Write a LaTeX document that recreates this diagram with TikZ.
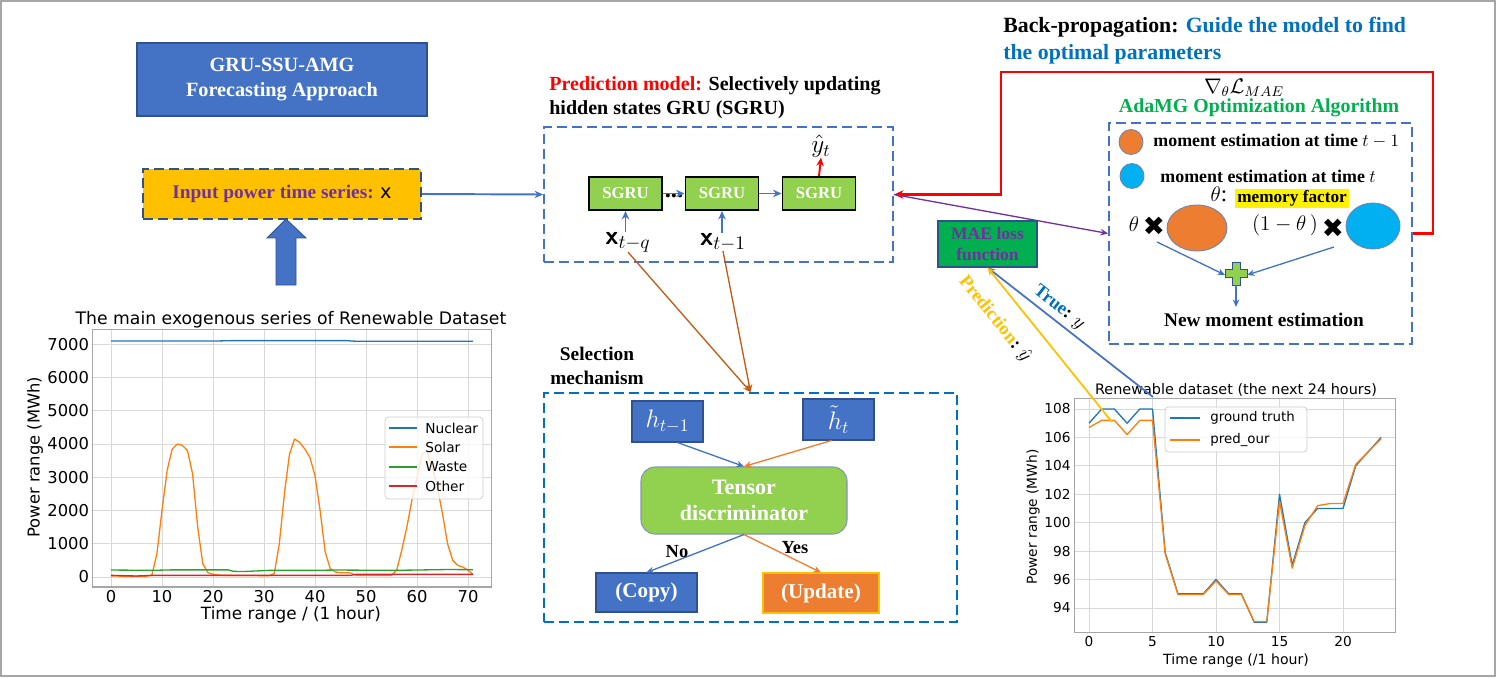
\documentclass[tikz,border=0pt]{standalone}
\usepackage{amsmath,amssymb}
\usepackage{fontspec}
\setmainfont{Liberation Serif}
\newfontfamily\plotfont{DejaVu Sans}
\usepackage{xcolor}
\usepackage{tikz}
\usetikzlibrary{shapes.geometric, arrows.meta, positioning, calc}

\definecolor{offblue}{HTML}{4472C4}
\definecolor{offdark}{HTML}{2F528F}
\definecolor{offgreen}{HTML}{92D050}
\definecolor{offorange}{HTML}{ED7D31}
\definecolor{offgold}{HTML}{FFC000}
\definecolor{offpurple}{HTML}{7030A0}
\definecolor{offsky}{HTML}{00B0F0}
\definecolor{offnavy}{HTML}{0070C0}
\definecolor{offlime}{HTML}{00B050}
\definecolor{offbrown}{HTML}{C55A11}
\definecolor{offred}{HTML}{FF0000}
\definecolor{mplblue}{HTML}{1F77B4}
\definecolor{mplorange}{HTML}{FF7F0E}
\definecolor{mplgreen}{HTML}{2CA02C}
\definecolor{mplred}{HTML}{D62728}

\begin{document}
\begin{tikzpicture}[
    x=0.2mm,
    y=-0.2mm,
    bluebox/.style={rectangle, draw=offdark, fill=offblue, text=white,
                    line width=0.6pt, inner sep=1pt, align=center},
    dashbox/.style={rectangle, draw=offblue, line width=1.1pt,
                    dash pattern=on 2mm off 1mm},
    sgru/.style={rectangle, draw=black, fill=offgreen, line width=1.1pt,
                 minimum width=14.6mm, minimum height=6.6mm, inner sep=0pt,
                 text=white, font=\bfseries\fontsize{9.5}{11}\selectfont},
    arrow/.style={-{Stealth[length=1.7mm, width=1.5mm]}, line width=1.1pt,
                  color=offblue},
    thinarrow/.style={-{Stealth[length=1.5mm, width=1.3mm]}, line width=0.75pt},
    lbl/.style={font=\bfseries\fontsize{10.5}{13.7}\selectfont, inner sep=0pt},
    mathlbl/.style={font=\fontsize{13}{15}\selectfont, inner sep=0pt},
    gridline/.style={draw=black!15, line width=0.5pt},
    plotframe/.style={draw=black!35, line width=0.6pt},
    ticklbl/.style={font=\plotfont\fontsize{9.3}{11}\selectfont, inner sep=2pt},
    smalltick/.style={font=\plotfont\fontsize{7.8}{9}\selectfont, inner sep=2pt},
    series/.style={line width=0.75pt, line join=round},
]
\useasboundingbox (0,0) rectangle (1503,678);
\draw[black!35, line width=0.8pt] (1,1) rectangle (1495,676);

% left column
\node[bluebox, minimum width=58mm, minimum height=14.6mm,
      font=\bfseries\fontsize{11.5}{14}\selectfont] (title) at (282,79.5)
      {GRU-SSU-AMG\\Forecasting Approach};
\draw[fill=offblue, draw=offdark, line width=0.5pt]
    (267,238) -- (286,219) -- (306,238) -- (296,238) -- (296,285)
    -- (276,285) -- (276,238) -- cycle;
\node[rectangle, fill=offgold, draw=offdark, line width=1.1pt,
      dash pattern=on 2mm off 1mm, minimum width=55.6mm, minimum height=10mm,
      font=\bfseries\fontsize{11}{13}\selectfont, text=offpurple] (input) at (282,194)
      {Input power time series: {\plotfont\mdseries\color{black}x}};

% prediction model
\node[lbl, anchor=west, align=left, font=\bfseries\fontsize{11.4}{13.7}\selectfont]
      (predtitle) at (549,98)
      {{\color{offred}Prediction model:} Selectively updating\\hidden states GRU (SGRU)};
\node[dashbox, minimum width=69.8mm, minimum height=27mm] (sgrubox) at (718.5,194.5) {};
\node[sgru] (sgru1) at (625.5,193.5) {SGRU};
\node[sgru] (sgru2) at (722,193.5) {SGRU};
\node[sgru] (sgru3) at (819,193.5) {SGRU};
\node[font=\bfseries\fontsize{14}{16}\selectfont, inner sep=0pt] (dots) at (674,196) {...};
\node[font=\fontsize{15}{17}\selectfont, inner sep=0pt] (xq) at (628,242)
      {\textsf{\bfseries x}$_{t-q}$};
\node[font=\fontsize{15}{17}\selectfont, inner sep=0pt] (x1) at (723,242)
      {\textsf{\bfseries x}$_{t-1}$};
\node[font=\fontsize{14}{16}\selectfont, inner sep=0pt] (yhat) at (821,146) {$\hat{y}_t$};

\draw[arrow] (input.east) -- (sgrubox.west);
\draw[arrow] (sgru1.east) -- (sgru2.west);
\draw[arrow] (sgru2.east) -- (sgru3.west);
\draw[arrow] (xq.north -| sgru1) -- (sgru1.south);
\draw[arrow] (x1.north -| sgru2) -- (sgru2.south);
\draw[arrow, color=offred] (sgru3.north) -- (yhat.south);

% back-propagation
\node[lbl, anchor=west, align=left, font=\bfseries\fontsize{12.4}{15.4}\selectfont]
      (bptitle) at (1003,41)
      {Back-propagation: {\color{offnavy}Guide the model to find}\\
       {\color{offnavy}the optimal parameters}};
\node[font=\fontsize{12}{14}\selectfont, inner sep=0pt] (grad) at (1244,88)
      {$\nabla_{\theta}\mathcal{L}_{MAE}$};
\node[lbl, text=offlime, font=\bfseries\fontsize{11.3}{13}\selectfont] (adatitle) at (1259,108)
      {AdaMG Optimization Algorithm};
\node[dashbox, minimum width=60.6mm, minimum height=44.2mm] (adamg) at (1260.5,233.5) {};
\coordinate (bpcorner) at (1001,72);
\draw[-{Stealth[length=1.9mm, width=1.7mm]}, line width=1.4pt, color=offred]
    (adamg.east) -- ++(20,0) |- (bpcorner) |- (sgrubox.east);
\draw[thinarrow, color=offpurple] (sgrubox.east) -- (adamg.west);

\node[ellipse, fill=offorange, draw=offdark!70, line width=0.5pt,
      minimum width=4.8mm, minimum height=5mm, inner sep=0pt] (mprev) at (1131,142) {};
\node[ellipse, fill=offsky, draw=offdark!70, line width=0.5pt,
      minimum width=4.8mm, minimum height=5mm, inner sep=0pt] (mnow) at (1132,176) {};
\node[lbl, anchor=west, font=\bfseries\fontsize{10.2}{12}\selectfont] (mprevtxt) at (1153,141)
      {moment estimation at time $t-1$};
\node[lbl, anchor=west, font=\bfseries\fontsize{10.2}{12}\selectfont] (mnowtxt) at (1160,176)
      {moment estimation at time $t$};
\node[mathlbl] (thcolon) at (1219,194) {$\theta$:};
\node[lbl, fill=yellow, minimum width=22.8mm, minimum height=3.8mm,
      font=\bfseries\fontsize{9.8}{11}\selectfont] (memory) at (1292,198.5) {memory factor};
\node[mathlbl] (th1) at (1134,224) {$\theta$};
\node[inner sep=0pt, font=\plotfont\fontsize{15}{17}\selectfont] (cross1) at (1154,226) {✖};
\node[ellipse, fill=offorange, draw=offdark!70, line width=0.5pt,
      minimum width=12mm, minimum height=9.2mm] (bigprev) at (1197,228) {};
\node[mathlbl] (th2) at (1285,225) {$(1-\theta\,)$};
\node[inner sep=0pt, font=\plotfont\fontsize{15}{17}\selectfont] (cross2) at (1333,228) {✖};
\node[ellipse, fill=offsky, draw=offdark!70, line width=0.5pt,
      minimum width=10.8mm, minimum height=9.2mm] (bignow) at (1373,226) {};
\coordinate (plus) at (1236,273);
\coordinate (fromprev) at (1157,242);
\coordinate (fromnow) at (1334,247);
\draw[fill=offgreen, draw=offdark, line width=0.5pt]
    ($(plus)+(-4,-11)$) -- ($(plus)+(4,-11)$) -- ($(plus)+(4,-4)$) -- ($(plus)+(11,-4)$)
    -- ($(plus)+(11,4)$) -- ($(plus)+(4,4)$) -- ($(plus)+(4,12)$) -- ($(plus)+(-4,12)$)
    -- ($(plus)+(-4,4)$) -- ($(plus)+(-11,4)$) -- ($(plus)+(-11,-4)$) -- ($(plus)+(-4,-4)$)
    -- cycle;
\node[lbl, font=\bfseries\fontsize{11}{13}\selectfont] (newm) at (1264,320) {New moment estimation};
\draw[thinarrow, color=offblue] (fromprev) -- ($(plus)+(-11,2)$);
\draw[thinarrow, color=offblue] (fromnow) -- ($(plus)+(11,2)$);
\draw[thinarrow, color=offblue] ($(plus)+(0,12)$) -- ($(plus)+(0,34)$);

% selection mechanism
\node[lbl, align=center, font=\bfseries\fontsize{11}{13.7}\selectfont] (seltitle) at (597,366)
      {Selection\\mechanism};
\node[dashbox, draw=offnavy, minimum width=82.6mm, minimum height=45.8mm] (selbox) at (750.5,507.5) {};
\node[bluebox, minimum width=14.2mm, minimum height=8.2mm,
      font=\fontsize{14}{16}\selectfont] (hprev) at (667.5,421.5) {$h_{t-1}$};
\node[bluebox, minimum width=14.2mm, minimum height=8.2mm,
      font=\fontsize{14}{16}\selectfont] (htil) at (838.5,419.5) {$\tilde{h}_t$};
\node[rectangle, rounded corners=8pt, fill=offgreen, draw=offdark!60, line width=0.6pt,
      minimum width=41.2mm, minimum height=13.4mm, align=center, text=white,
      font=\bfseries\fontsize{12.5}{15}\selectfont] (tensor) at (744,500.5)
      {Tensor\\discriminator};
\node[bluebox, minimum width=20.2mm, minimum height=7.8mm,
      font=\bfseries\fontsize{12}{14}\selectfont] (copy) at (646.5,592.5) {(Copy)};
\node[bluebox, fill=offorange, draw=offgold, minimum width=23.2mm, minimum height=8mm,
      font=\bfseries\fontsize{12}{14}\selectfont] (update) at (821,593) {(Update)};
\draw[thinarrow, color=offbrown] (xq.south) -- (selbox.north);
\draw[thinarrow, color=offbrown] (x1.south) -- (selbox.north);
\draw[thinarrow, color=offblue] ([xshift=2mm]hprev.south) -- (tensor.north);
\draw[thinarrow, color=offorange] ([xshift=-1.4mm]htil.south) -- (tensor.north);
\draw[thinarrow, color=offblue] (tensor.south) -- (copy.north);
\draw[thinarrow, color=offorange] (tensor.south) -- (update.north);
\node[lbl, font=\bfseries\fontsize{10.5}{12}\selectfont] (nolbl) at (677,552) {No};
\node[lbl, font=\bfseries\fontsize{10.5}{12}\selectfont] (yeslbl) at (795,548) {Yes};

% left chart
\node[font=\plotfont\fontsize{9.8}{11}\selectfont, inner sep=0pt] (lchart) at (291,320)
      {The main exogenous series of Renewable Dataset};
\begin{scope}[shift={(111,577)}, x=1.02mm, y=0.006658mm]
  \foreach \hr in {0,10,...,70} {
    \draw[gridline] (\hr,-300) -- (\hr,7450);
    \node[ticklbl, below] (lx\hr) at (\hr,-300) {\hr};
  }
  \foreach \pw in {0,1000,...,7000} {
    \draw[gridline] (-3.55,\pw) -- (74.55,\pw);
    \node[ticklbl, left] (ly\pw) at (-3.55,\pw) {\pw};
  }
  \draw[plotframe] (-3.55,-300) rectangle (74.55,7450);
  \draw[series, mplblue] plot coordinates {(0,7100) (20,7095) (24,7110) (46,7110)
      (48,7090) (71,7090)};
  \draw[series, mplorange] plot coordinates {(0,30) (3,25) (7,25) (8,50) (9,700)
      (10,2000) (11,3200) (12,3850) (13,4000) (14,3960) (15,3800) (16,3100)
      (17,1500) (18,400) (19,130) (20,80) (21,60) (22,50) (31,40) (32,100)
      (33,1000) (34,2500) (35,3700) (36,4150) (37,4050) (38,3850) (39,3600)
      (40,3050) (41,2000) (42,750) (43,250) (44,150) (45,130) (46,130) (47,120)
      (48,50) (55,50) (56,200) (57,800) (58,1500) (59,2300) (60,3000) (61,3700)
      (62,3780) (63,3300) (64,2700) (65,1900) (66,1000) (67,500) (68,350)
      (69,300) (70,200) (71,80)};
  \draw[series, mplgreen] plot coordinates {(0,210) (8,200) (12,215) (23,215)
      (24,170) (26,165) (29,185) (31,200) (40,200) (44,210) (55,200) (60,210)
      (66,225) (71,220)};
  \draw[series, mplred] plot coordinates {(0,50) (5,30) (8,50) (47,50) (48,80) (71,80)};
\end{scope}
\node[font=\plotfont\fontsize{9.6}{11}\selectfont, inner sep=0pt] (lxlabel) at (291,615)
      {Time range / (1 hour)};
\node[font=\plotfont\fontsize{9.3}{11}\selectfont, inner sep=0pt, rotate=90] (lylabel) at (35,457)
      {Power range (MWh)};
\draw[draw=black!20, fill=white, fill opacity=0.8, rounded corners=2pt] (385,417) rectangle (483,499);
\foreach \name/\col/\yy in {Nuclear/mplblue/428, Solar/mplorange/447,
                            Waste/mplgreen/467, Other/mplred/486} {
  \draw[series, \col] (389,\yy) -- (417,\yy);
  \node[anchor=west, inner sep=0pt, font=\plotfont\fontsize{7.8}{9}\selectfont]
       (leg\name) at (425,\yy) {\name};
}

% right chart
\node[font=\plotfont\fontsize{8.2}{9}\selectfont, inner sep=0pt] (rchart) at (1236,390)
      {Renewable dataset (the next 24 hours)};
\begin{scope}[shift={(1089,1943.7)}, x=2.54mm, y=2.842mm]
  \foreach \hr in {0,5,...,20} {
    \draw[gridline] (\hr,92.25) -- (\hr,108.75);
    \node[smalltick, below] (rx\hr) at (\hr,92.25) {\hr};
  }
  \foreach \pw in {94,96,...,108} {
    \draw[gridline] (-1.15,\pw) -- (24.15,\pw);
    \node[smalltick, left] (ry\pw) at (-1.15,\pw) {\pw};
  }
  \draw[plotframe] (-1.15,92.25) rectangle (24.15,108.75);
  \draw[series, mplblue] plot coordinates {(0,107) (1,108) (2,108) (3,107) (4,108)
      (5,108) (6,97.9) (7,95) (8,95) (9,95) (10,96) (11,95) (12,95) (13,93)
      (14,93) (15,102) (16,97) (17,100) (18,101) (19,101) (20,101) (21,104)
      (22,105) (23,106)};
  \draw[series, mplorange] plot coordinates {(0,106.7) (1,107.2) (2,107.2) (3,106.2)
      (4,107.2) (5,107.2) (6,97.8) (7,94.95) (8,94.95) (9,94.95) (10,95.9)
      (11,94.95) (12,94.95) (13,93.05) (14,93.05) (15,101.5) (16,96.8) (17,99.8)
      (18,101.2) (19,101.35) (20,101.35) (21,104.1) (22,105) (23,105.9)};
\end{scope}
\node[font=\plotfont\fontsize{8}{9}\selectfont, inner sep=0pt] (rxlabel) at (1236,661)
      {Time range (/1 hour)};
\node[font=\plotfont\fontsize{7.8}{9}\selectfont, inner sep=0pt, rotate=90] (rylabel) at (1033,517)
      {Power range (MWh)};
\draw[draw=black!20, fill=white, fill opacity=0.8, rounded corners=2pt] (1165,407) rectangle (1307,452);
\draw[series, mplblue] (1170,418) -- (1200,418);
\draw[series, mplorange] (1170,440) -- (1200,440);
\node[anchor=west, inner sep=0pt, font=\plotfont\fontsize{7.6}{9}\selectfont] (leggt) at (1210,418) {ground truth};
\node[anchor=west, inner sep=0pt, font=\plotfont\fontsize{7.6}{9}\selectfont] (legpred) at (1210,440) {pred\_our};

% loss
\node[rectangle, fill=offlime, draw=offdark, line width=0.6pt, minimum width=19.8mm,
      minimum height=9.2mm, align=center, text=offpurple,
      font=\bfseries\fontsize{10}{12}\selectfont, inner sep=0pt] (mae) at (987.5,244)
      {MAE loss\\function};
\coordinate (truept) at (1153,397);
\coordinate (predpt) at (1112,422);
\draw[thinarrow, color=offblue, line width=1pt] (truept) -- (mae.south);
\draw[thinarrow, color=offgold, line width=1pt] (predpt) -- (mae.south);
\node[lbl, rotate=-38, font=\bfseries\fontsize{10.5}{12}\selectfont] (truelbl) at (1059,308)
      {{\color{offnavy}True}: $y$};
\node[lbl, rotate=-51, font=\bfseries\fontsize{10.5}{12}\selectfont] (predlbl) at (995,319)
      {{\color{offgold}Prediction}: $\hat{y}$};
\end{tikzpicture}
\end{document}
